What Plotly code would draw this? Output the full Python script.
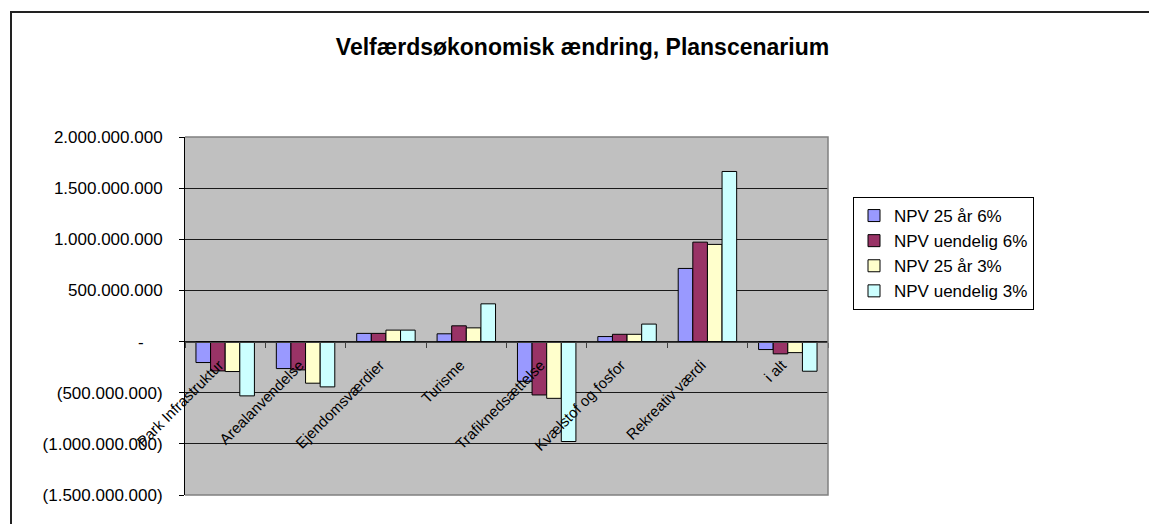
import plotly.graph_objects as go

categories = [
    "Park Infrastruktur",
    "Arealanvendelse",
    "Ejendomsværdier",
    "Turisme",
    "Trafiknedsættelse",
    "Kvælstof og fosfor",
    "Rekreativ værdi",
    "i alt",
]
series_names = ["NPV 25 år 6%", "NPV uendelig 6%", "NPV 25 år 3%", "NPV uendelig 3%"]

npv25_6 = [-205e6, -264e6, 80e6, 76e6, -389e6, 49e6, 715e6, -78e6]
npvinf_6 = [-287e6, -277e6, 80e6, 154e6, -522e6, 71e6, 972e6, -120e6]
npv25_3 = [-293e6, -407e6, 112e6, 134e6, -555e6, 71e6, 950e6, -108e6]
npvinf_3 = [-531e6, -443e6, 112e6, 369e6, -977e6, 171e6, 1663e6, -290e6]

y_ticks = [2e9, 1.5e9, 1e9, 5e8, 0, -5e8, -1e9, -1.5e9]
y_ticktext = [
    "2.000.000.000",
    "1.500.000.000",
    "1.000.000.000",
    "500.000.000",
    "-\u00a0\u00a0\u00a0\u00a0",
    "(500.000.000)",
    "(1.000.000.000)",
    "(1.500.000.000)",
]

colors = ["#9999FF", "#993366", "#FFFFCC", "#CCFFFF"]
values = [npv25_6, npvinf_6, npv25_3, npvinf_3]

# the page body adds an 8px margin, so everything is laid out 8px up/left
OFF = 8
W, H = 1157 - OFF, 524 - OFF
L, R, T, B = 185 - OFF, 828 - OFF, 137 - OFF, 495 - OFF  # plot area
pw, ph = R - L, B - T


def px_x(x):
    return (x - OFF - L) / pw


def px_y(y):
    return (B - (y - OFF)) / ph


fig = go.Figure()
for name, vals, col in zip(series_names, values, colors):
    fig.add_trace(go.Bar(
        x=categories, y=vals, name=name,
        marker=dict(color=col, line=dict(color="#000000", width=1)),
    ))

fig.update_layout(
    width=W, height=H,
    margin=dict(l=L, r=W - R, t=T, b=H - B),
    paper_bgcolor="white",
    plot_bgcolor="#C0C0C0",
    barmode="group",
    bargap=1.5 / 5.5,
    bargroupgap=0,
    font=dict(family="Arial", color="#000000"),
    title=dict(
        text="<b>Velfærdsøkonomisk ændring, Planscenarium</b>",
        x=0.5, xanchor="center", y=1 - (47 - OFF) / H, yanchor="middle",
        font=dict(size=23, family="Arial", color="#000000"),
    ),
    legend=dict(
        x=px_x(853), y=px_y(197), xanchor="left", yanchor="top",
        bgcolor="white", bordercolor="#000000", borderwidth=1,
        font=dict(size=17, family="Arial"),
        tracegroupgap=0,
    ),
    showlegend=True,
)

fig.update_yaxes(
    range=[-1.5e9, 2e9],
    tickvals=y_ticks, ticktext=y_ticktext,
    showgrid=True, gridcolor="#1a1a1a", gridwidth=1,
    zeroline=False,
    showline=True, linecolor="#000000", linewidth=1,
    ticks="outside", ticklen=5, tickcolor="#000000",
    tickfont=dict(size=17, family="Arial"),
    ticklabelstandoff=13,
)
fig.update_xaxes(
    anchor="free", position=1.5 / 3.5,
    showline=True, linecolor="#404040", linewidth=1,
    showgrid=False,
    ticks="outside", ticklen=5, tickcolor="#404040", tickson="boundaries",
    tickangle=-45,
    tickfont=dict(size=15, family="Arial"),
    ticklabelstandoff=8,
    ticklabelshift=-6,
)

# plot area border (top, right, bottom) and outer chart frame
fig.add_shape(
    type="path", xref="paper", yref="paper",
    path="M 0,1 L 1,1 L 1,0 L 0,0",
    line=dict(color="#808080", width=1.5),
)
fig.add_shape(
    type="rect", xref="paper", yref="paper",
    x0=px_x(11), x1=px_x(1154), y0=px_y(540), y1=px_y(12),
    line=dict(color="#222222", width=2),
)

fig.write_html("out.html")
